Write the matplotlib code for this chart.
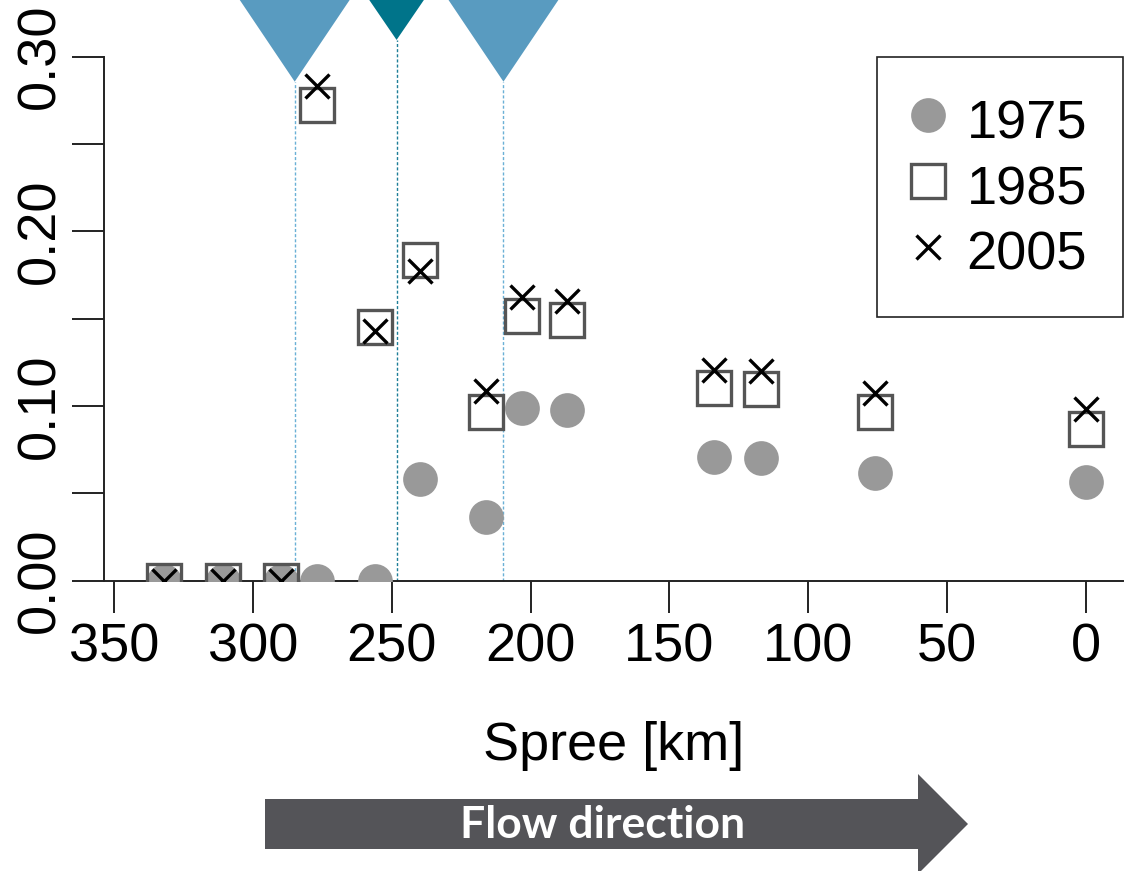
import matplotlib
matplotlib.use("Agg")
import matplotlib.pyplot as plt
from matplotlib.lines import Line2D
from matplotlib.patches import Polygon

# river km (Spree), measured from the mouth
km = [332, 311, 290, 277, 256, 240, 216, 203, 187, 134, 117, 76, 0]
y1975 = [0, 0, 0, 0, 0, 0.058, 0.0365, 0.0988, 0.0975, 0.0709, 0.0702, 0.0617, 0.0564]
y1985 = [0, 0, 0, 0.2723, 0.1454, 0.1833, 0.0967, 0.1517, 0.1494, 0.1101, 0.1097, 0.0963, 0.0867]
y2005 = [0, 0, 0, 0.2832, 0.1431, 0.1774, 0.1087, 0.1622, 0.1603, 0.1206, 0.1200, 0.1072, 0.0981]

# sites marked with triangles above the plot
site_km = [285, 248.3, 209.8]
site_tip = [0.2857, 0.3096, 0.2857]
site_halfwidth = [19.8, 9.85, 19.8]
site_colors = ["#599BC0", "#00748A", "#599BC0"]
line_colors = ["#6AB0D6", "#1E7E98", "#6AB0D6"]

xticks = [350, 300, 250, 200, 150, 100, 50, 0]
yticks = [0, 0.05, 0.10, 0.15, 0.20, 0.25, 0.30]
ylabels = ["0.00", "", "0.10", "", "0.20", "", "0.30"]

W, H = 1134, 871
FS = 39
plt.rcParams["font.family"] = ["Liberation Sans", "DejaVu Sans"]

fig = plt.figure(figsize=(W / 100, H / 100), dpi=100)
ax = fig.add_axes([104.3 / W, 1 - 580.5 / H, (1122.7 - 104.3) / W, (580.5 - 56.7) / H])
ax.set_xlim(353.6, -13.3)
ax.set_ylim(0, 0.30)

for s in ["top", "right"]:
    ax.spines[s].set_visible(False)
for s in ["left", "bottom"]:
    ax.spines[s].set_linewidth(1.4)
    ax.spines[s].set_color("#222222")

ax.set_xticks(xticks, labels=[str(v) for v in xticks])
ax.set_yticks(yticks, labels=ylabels)
ax.tick_params(axis="both", length=23, width=1.4, color="#222222", labelsize=FS)
ax.tick_params(axis="x", pad=7)
ax.tick_params(axis="y", pad=5)
for lbl in ax.get_yticklabels():
    lbl.set_rotation(90)
    lbl.set_va("center")
    lbl.set_ha("right")

# site markers: dashed line + triangle
for k, tip, hw, c, lc in zip(site_km, site_tip, site_halfwidth, site_colors, line_colors):
    ax.vlines(k, 0, tip, colors=lc, linestyles=(0, (2.2, 1.5)), linewidth=1.0, clip_on=False, zorder=1)
    tri = Polygon([(k - hw, 0.3325), (k + hw, 0.3325), (k, tip)], closed=True,
                  facecolor=c, edgecolor="none", clip_on=False, zorder=1)
    ax.add_patch(tri)

ax.plot(km, y1975, "o", ms=25, color="#999999", mec="none", zorder=3)
ax.plot(km, y1985, "s", ms=25, mfc="none", mec="#555555", mew=2.4, zorder=4)
ax.plot(km, y2005, "x", ms=17, color="black", mew=2.4, zorder=5)

handles = [
    Line2D([], [], ls="none", marker="o", ms=25, color="#999999", mec="none"),
    Line2D([], [], ls="none", marker="s", ms=25, mfc="none", mec="#555555", mew=2.4),
    Line2D([], [], ls="none", marker="x", ms=17, color="black", mew=2.4),
]
leg = ax.legend(handles, ["1975", "1985", "2005"], loc="upper right", bbox_to_anchor=(1, 1),
                fontsize=FS, frameon=True, fancybox=False, framealpha=1, edgecolor="#222222",
                borderpad=0.66, labelspacing=0.16, handlelength=0.55, handleheight=1.2,
                handletextpad=0.44, borderaxespad=0)
leg.get_frame().set_linewidth(1.2)

fig.text(613.5 / W, 1 - 746 / H, "Spree [km]", fontsize=FS, ha="center", va="center")

# flow direction arrow
arrow_px = [(265, 799), (918, 799), (918, 774), (968, 824), (918, 874), (918, 849), (265, 849)]
arrow = Polygon([(x / W, 1 - y / H) for x, y in arrow_px], closed=True,
                facecolor="#545458", edgecolor="none", transform=fig.transFigure)
fig.patches.append(arrow)
fig.text(603 / W, 1 - 825 / H, "Flow direction", fontsize=32, fontweight="bold",
         family=["Lato", "DejaVu Sans"], color="white", ha="center", va="center")

fig.savefig("out.png", dpi=100)
